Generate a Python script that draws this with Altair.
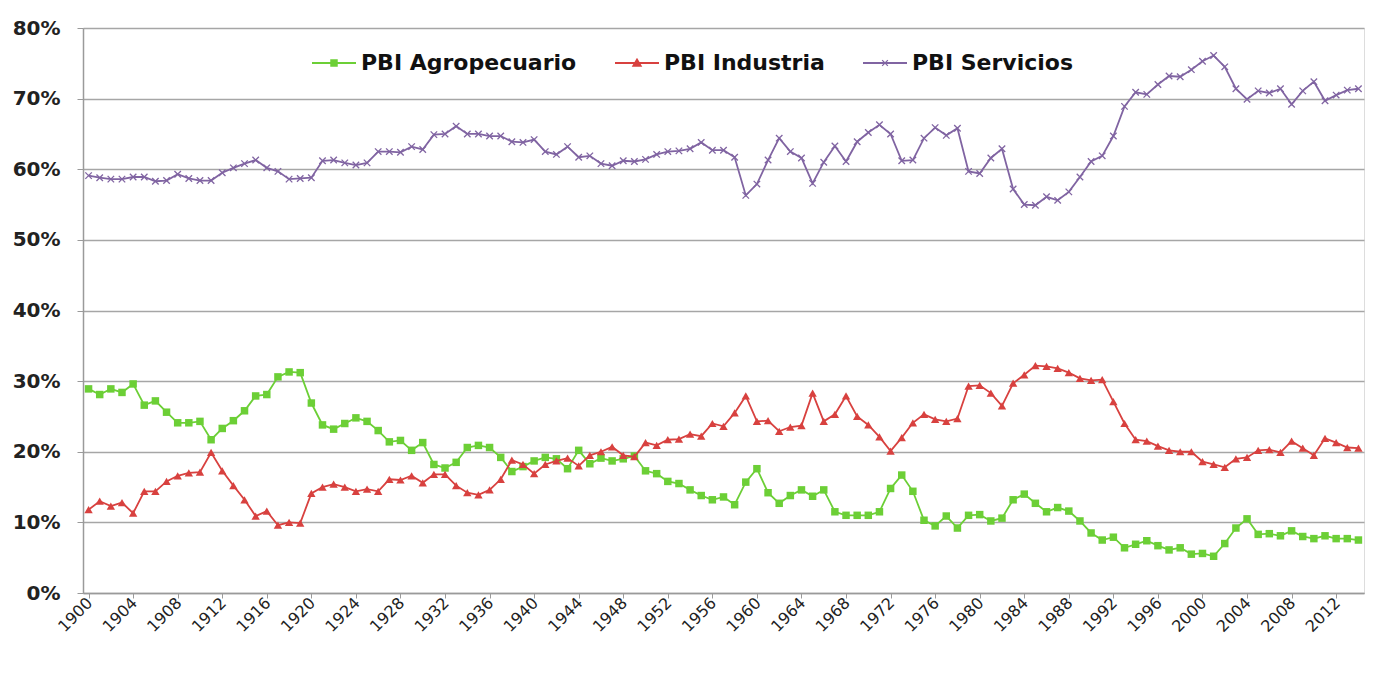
import altair as alt
import pandas as pd

years = list(range(1900, 2015))
label_years = list(range(1900, 2013, 4))

agro = [28.9, 28.1, 28.9, 28.4, 29.6, 26.6, 27.2, 25.6, 24.1, 24.1,
        24.3, 21.7, 23.3, 24.4, 25.8, 27.9, 28.1, 30.6, 31.3, 31.2,
        26.9, 23.8, 23.2, 24.0, 24.8, 24.3, 23.0, 21.4, 21.6, 20.2,
        21.3, 18.2, 17.7, 18.5, 20.6, 20.9, 20.6, 19.2, 17.2, 17.9,
        18.7, 19.2, 19.0, 17.6, 20.2, 18.3, 19.1, 18.7, 19.0, 19.4,
        17.3, 16.9, 15.8, 15.5, 14.6, 13.8, 13.2, 13.6, 12.5, 15.7,
        17.6, 14.2, 12.7, 13.8, 14.6, 13.7, 14.6, 11.5, 11.0, 11.0,
        11.0, 11.5, 14.8, 16.7, 14.4, 10.3, 9.5, 10.9, 9.2, 11.0,
        11.1, 10.2, 10.6, 13.2, 14.0, 12.7, 11.5, 12.1, 11.6, 10.2,
        8.5, 7.5, 7.9, 6.4, 6.9, 7.4, 6.7, 6.1, 6.4, 5.5,
        5.6, 5.2, 7.0, 9.2, 10.5, 8.3, 8.4, 8.1, 8.8, 8.0,
        7.7, 8.1, 7.7, 7.7, 7.5]

industria = [11.8, 13.0, 12.3, 12.8, 11.3, 14.4, 14.4, 15.8, 16.6, 17.0,
             17.1, 19.9, 17.3, 15.2, 13.2, 10.9, 11.6, 9.6, 10.0, 9.9,
             14.1, 15.0, 15.4, 15.0, 14.4, 14.7, 14.4, 16.1, 16.0, 16.6,
             15.6, 16.8, 16.8, 15.2, 14.2, 13.9, 14.6, 16.1, 18.8, 18.2,
             16.9, 18.2, 18.7, 19.1, 18.0, 19.5, 20.0, 20.7, 19.5, 19.3,
             21.3, 20.9, 21.7, 21.8, 22.5, 22.2, 24.0, 23.6, 25.5, 27.9,
             24.3, 24.4, 22.9, 23.5, 23.7, 28.3, 24.3, 25.3, 27.9, 25.0,
             23.8, 22.1, 20.1, 22.0, 24.1, 25.3, 24.6, 24.3, 24.7, 29.3,
             29.4, 28.3, 26.5, 29.7, 30.9, 32.2, 32.1, 31.8, 31.2, 30.4,
             30.1, 30.2, 27.1, 24.0, 21.7, 21.5, 20.8, 20.2, 20.0, 20.0,
             18.6, 18.2, 17.8, 19.0, 19.2, 20.2, 20.3, 19.9, 21.5, 20.5,
             19.5, 21.9, 21.3, 20.6, 20.5]

servicios = [59.1, 58.8, 58.6, 58.6, 58.9, 58.9, 58.3, 58.4, 59.3, 58.7,
             58.4, 58.4, 59.5, 60.2, 60.8, 61.3, 60.2, 59.7, 58.6, 58.7,
             58.8, 61.2, 61.3, 60.9, 60.6, 60.9, 62.5, 62.5, 62.4, 63.2,
             62.8, 64.9, 65.0, 66.1, 65.0, 65.0, 64.7, 64.7, 63.9, 63.8,
             64.2, 62.5, 62.1, 63.2, 61.7, 61.9, 60.8, 60.5, 61.2, 61.1,
             61.4, 62.1, 62.5, 62.6, 62.9, 63.8, 62.7, 62.7, 61.7, 56.3,
             57.9, 61.3, 64.4, 62.5, 61.6, 58.0, 61.0, 63.3, 61.1, 63.9,
             65.2, 66.3, 65.0, 61.2, 61.3, 64.4, 65.9, 64.8, 65.8, 59.7,
             59.4, 61.6, 62.9, 57.2, 55.0, 54.9, 56.1, 55.6, 56.8, 58.9,
             61.1, 61.9, 64.7, 68.9, 70.9, 70.6, 72.0, 73.2, 73.1, 74.1,
             75.3, 76.1, 74.5, 71.4, 69.9, 71.1, 70.8, 71.4, 69.2, 71.1,
             72.4, 69.7, 70.5, 71.2, 71.4]

series = ["PBI Agropecuario", "PBI Industria", "PBI Servicios"]
colors = ["#6CCF36", "#D8413F", "#8064A2"]
y_ticks = [0, 0.1, 0.2, 0.3, 0.4, 0.5, 0.6, 0.7, 0.8]

df = pd.DataFrame({
    "year": years,
    series[0]: [v / 100 for v in agro],
    series[1]: [v / 100 for v in industria],
    series[2]: [v / 100 for v in servicios],
})
labels_df = pd.DataFrame({"year": label_years, "txt": [str(y) for y in label_years]})

FONT = "DejaVu Sans"
W, H = 1281, 565

x_scale = alt.Scale(domain=[1899.5, 2014.5], nice=False, zero=False)
x_enc = alt.X(
    "year:Q",
    scale=x_scale,
    axis=alt.Axis(
        values=years,
        labels=False,
        tickSize=5,
        tickColor="#9a9a9a",
        domainColor="#9a9a9a",
        domainWidth=1.5,
        grid=False,
        title=None,
    ),
)

y_axis = alt.Axis(
    values=y_ticks,
    format=".0%",
    labelFont=FONT,
    labelFontSize=20,
    labelFontWeight="bold",
    labelColor="#222222",
    labelPadding=17,
    tickSize=6,
    tickColor="#9a9a9a",
    domainColor="#9a9a9a",
    domainWidth=1.5,
    grid=True,
    gridColor="#a6a6a6",
    gridWidth=1.5,
    title=None,
)
y_scale = alt.Scale(domain=[0, 0.8], nice=False)

base = alt.Chart(df)

marker_specs = [
    dict(shape="square", filled=True, size=56, strokeWidth=0),
    dict(shape="triangle-up", filled=True, size=70, strokeWidth=0),
    dict(shape="M-1,-1L1,1M-1,1L1,-1", filled=False, size=42, strokeWidth=1.3),
]

layers = []
for name, col, spec in zip(series, colors, marker_specs):
    y_enc = alt.Y(field=name, type="quantitative", scale=y_scale, axis=y_axis)
    layers.append(base.mark_line(color=col, strokeWidth=1.8).encode(x=x_enc, y=y_enc))
    layers.append(
        base.mark_point(color=col, opacity=1, **spec).encode(x=x_enc, y=y_enc)
    )

legend_paths = [
    "M-1,-0.04H1V0.04H-1Z M-0.17,-0.17H0.17V0.17H-0.17Z",
    "M-1,-0.04H1V0.04H-1Z M0,-0.24L0.24,0.17H-0.24Z",
    "M-1,-0.04H1V0.04H-1Z M-0.15,-0.11L-0.11,-0.15L0.15,0.11L0.11,0.15Z M-0.15,0.11L0.11,-0.15L0.15,-0.11L-0.11,0.15Z",
]

leg = alt.Legend(
    title=None,
    orient="none",
    legendX=229,
    legendY=13,
    direction="horizontal",
    symbolSize=1936,
    symbolStrokeWidth=0,
    symbolOpacity=1,
    labelFont=FONT,
    labelFontSize=22,
    labelFontWeight="bold",
    labelColor="#111111",
    labelLimit=0,
    labelOffset=5,
    columnPadding=38,
)

legend_layer = (
    base.transform_fold(series, as_=["serie", "valor"])
    .mark_point(filled=True, opacity=0, size=1)
    .encode(
        x=x_enc,
        y=alt.Y("valor:Q", scale=y_scale, axis=y_axis),
        color=alt.Color("serie:N", scale=alt.Scale(domain=series, range=colors), legend=leg),
        shape=alt.Shape("serie:N", scale=alt.Scale(domain=series, range=legend_paths), legend=leg),
    )
)

year_labels = (
    alt.Chart(labels_df)
    .mark_text(angle=315, align="right", baseline="middle", font=FONT,
               fontSize=16, color="#222222", dx=2)
    .encode(x=alt.X("year:Q", scale=x_scale), y=alt.value(H + 9), text="txt:N")
)

chart = (
    alt.layer(*layers, legend_layer, year_labels)
    .properties(
        width=W,
        height=H,
        autosize=alt.AutoSizeParams(type="none"),
        padding={"left": 75, "top": 20, "right": 21, "bottom": 75},
    )
    .configure_view(stroke=None)
    .configure(background="white")
)

chart.save("out.html", embed_options={"renderer": "svg", "actions": False})
